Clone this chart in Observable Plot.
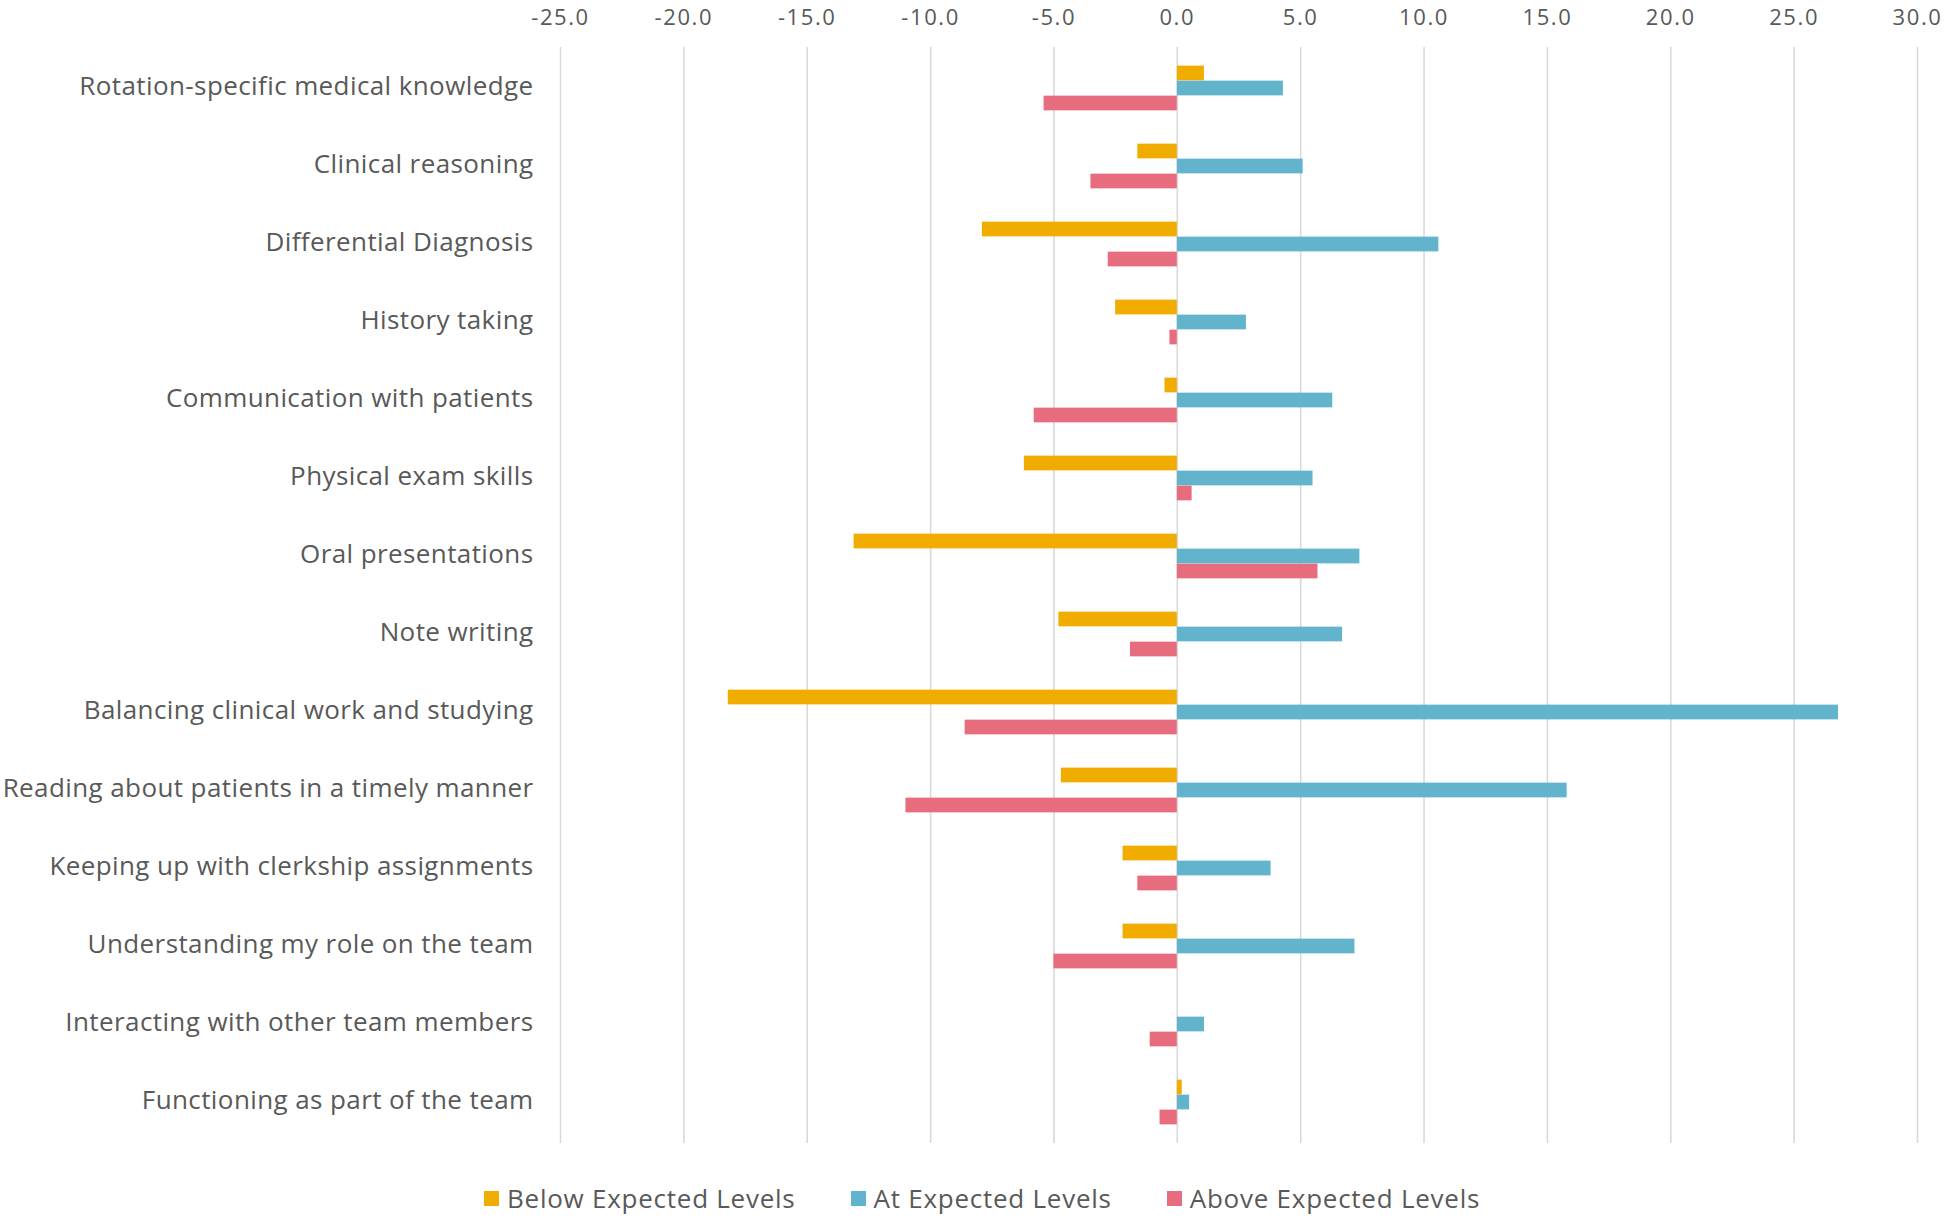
<!DOCTYPE html>
<html><head><meta charset="utf-8">
<script src="https://cdn.jsdelivr.net/npm/d3@7"></script>
<script src="https://cdn.jsdelivr.net/npm/@observablehq/plot@0.6"></script>
<style>
body{margin:0;background:#fff;font-family:"Open Sans",sans-serif;}
#legend{display:flex;align-items:center;height:60px;padding-top:20px;padding-left:484px;box-sizing:border-box;color:#595959;font-size:26px;letter-spacing:0.75px;}
.item{display:flex;align-items:center;margin-right:55px;}
.sw{width:15px;height:15px;margin-right:8px;}
#chart svg g[aria-label="y-axis tick label"]{letter-spacing:0.4px;}
#chart svg g[aria-label="x-axis tick label"]{letter-spacing:1.6px;}
</style>
</head><body>
<div id="chart"></div>
<div id="legend"></div>
<script>
const categories = [
  "Rotation-specific medical knowledge",
  "Clinical reasoning",
  "Differential Diagnosis",
  "History taking",
  "Communication with patients",
  "Physical exam skills",
  "Oral presentations",
  "Note writing",
  "Balancing clinical work and studying",
  "Reading about patients in a timely manner",
  "Keeping up with clerkship assignments",
  "Understanding my role on the team",
  "Interacting with other team members",
  "Functioning as part of the team"
];
const seriesNames = ["Below Expected Levels", "At Expected Levels", "Above Expected Levels"];
const below = [1.1, -1.6, -7.9, -2.5, -0.5, -6.2, -13.1, -4.8, -18.2, -4.7, -2.2, -2.2, 0, 0.2];
const at    = [4.3, 5.1, 10.6, 2.8, 6.3, 5.5, 7.4, 6.7, 26.8, 15.8, 3.8, 7.2, 1.1, 0.5];
const above = [-5.4, -3.5, -2.8, -0.3, -5.8, 0.6, 5.7, -1.9, -8.6, -11.0, -1.6, -5.0, -1.1, -0.7];
const xTicks = [-25, -20, -15, -10, -5, 0, 5, 10, 15, 20, 25, 30];
const colors = ["#F0AD00", "#62B3CC", "#E76C7D"];

const rows = categories.map((c, i) => ({category: c, below: below[i], at: at[i], above: above[i]}));

const chart = Plot.plot({
  width: 1944,
  height: 1158,
  marginTop: 47,
  marginBottom: 15,
  marginLeft: 560,
  marginRight: 27,
  style: {fontFamily: "'Open Sans', sans-serif", background: "#fff", overflow: "visible"},
  x: {domain: [-25, 30]},
  y: {domain: categories, padding: 0},
  marks: [
    Plot.ruleX(xTicks, {stroke: "#d9d9d9", strokeWidth: 1.6}),
    Plot.barX(rows, {y: "category", x1: 0, x2: "below", fill: colors[0], insetTop: 16.64, insetBottom: 46.64}),
    Plot.barX(rows, {y: "category", x1: 0, x2: "at", fill: colors[1], insetTop: 31.64, insetBottom: 31.64}),
    Plot.barX(rows, {y: "category", x1: 0, x2: "above", fill: colors[2], insetTop: 46.64, insetBottom: 16.64}),
    Plot.axisX(xTicks, {anchor: "top", tickSize: 0, tickPadding: 23, tickFormat: d => d.toFixed(1), fontSize: 22, fill: "#595959", label: null}),
    Plot.axisY({tickSize: 0, tickPadding: 27, fontSize: 26, fill: "#595959", label: null, dy: -2})
  ]
});
document.getElementById("chart").appendChild(chart);

const legend = document.getElementById("legend");
seriesNames.forEach((name, i) => {
  const item = document.createElement("div");
  item.className = "item";
  const sw = document.createElement("div");
  sw.className = "sw";
  sw.style.background = colors[i];
  const t = document.createElement("span");
  t.textContent = name;
  item.appendChild(sw);
  item.appendChild(t);
  legend.appendChild(item);
});
</script>
</body></html>
